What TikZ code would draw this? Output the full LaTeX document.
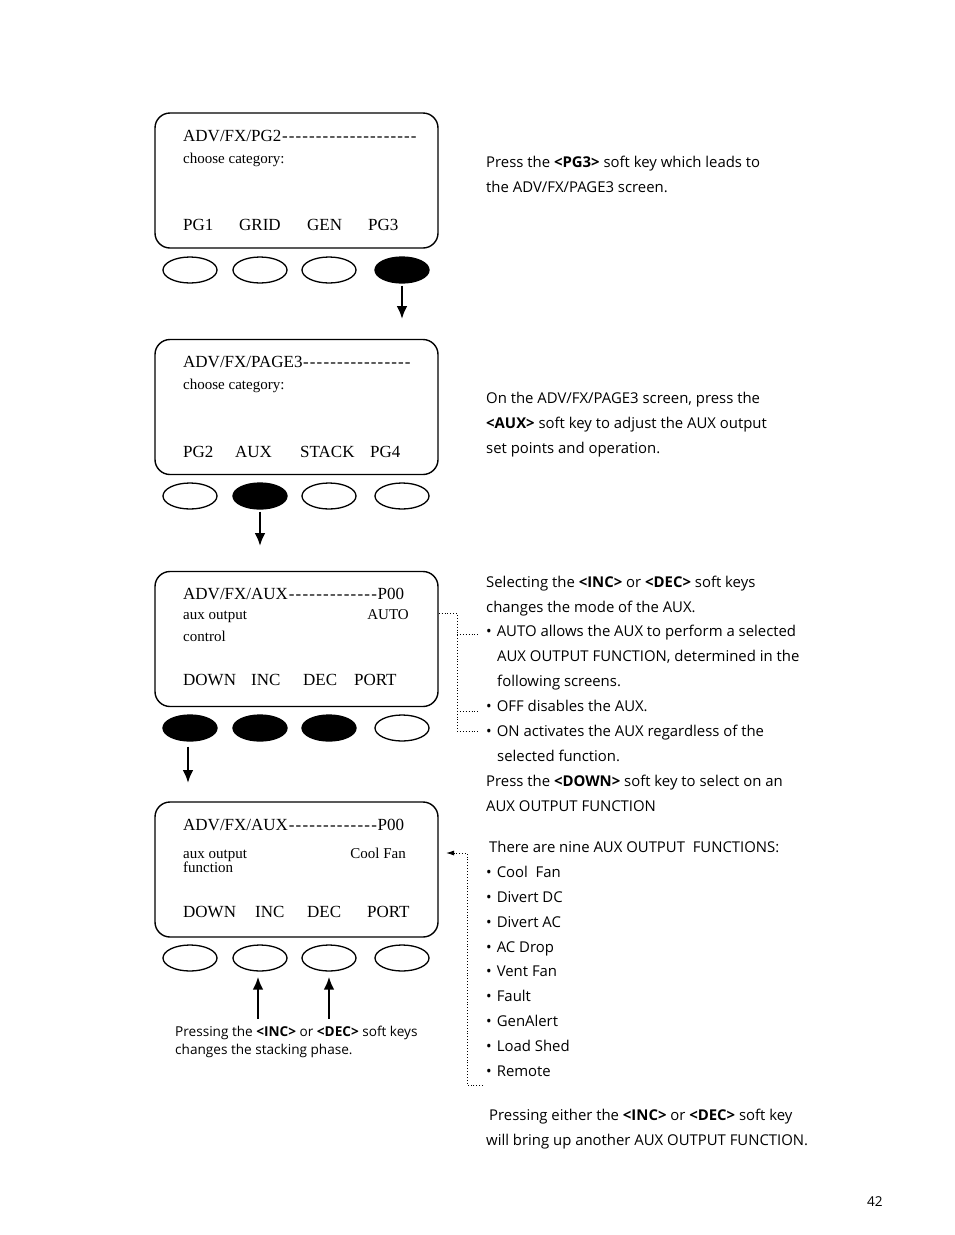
\documentclass[tikz,border=0pt]{standalone}
\usepackage{fontspec}
\setmainfont{Open Sans}
\newfontfamily\boxfont{Liberation Serif}
\usetikzlibrary{shapes.geometric,arrows.meta}
\newcommand\dashfill{\xleaders\hbox to 6.6pt{\hss-\hss}\hfill}
\tikzset{
  screen/.style={draw, line width=1.4pt, rounded corners=15pt, minimum width=283pt, minimum height=135pt, inner sep=0pt},
  key/.style={draw, ellipse, line width=1.3pt, minimum width=54pt, minimum height=26pt, inner sep=0pt},
  keyon/.style={key, fill=black},
  big/.style={anchor=base west, inner sep=0pt, font=\boxfont\fontsize{17}{17}\selectfont},
  bigr/.style={anchor=base east, inner sep=0pt, font=\boxfont\fontsize{15}{15}\selectfont},
  small/.style={anchor=base west, inner sep=0pt, font=\boxfont\fontsize{15}{15}\selectfont},
  txt/.style={anchor=base west, inner sep=0pt, font=\fontsize{14.9}{25}\selectfont},
  captxt/.style={anchor=base west, inner sep=0pt, font=\fontsize{13.6}{18}\selectfont},
  arr/.style={line width=2.8pt, -{Latex[length=13pt,width=11pt]}},
  dot/.style={dotted, line width=0.9pt},
}
\begin{document}
\begin{tikzpicture}[x=1pt,y=-1pt]
\useasboundingbox (0,0) rectangle (954,1235);
% ---------- screen 1
\node[screen] (s1) at (296.5,180.5) {};
\node[big] (t1a) at (183,141) {\makebox[234pt][l]{ADV/FX/PG2\dashfill}};
\node[small] (t1b) at (183,163) {choose category:};
\node[big] (t1c) at (183,230) {PG1};
\node[big] (t1d) at (239,230) {GRID};
\node[big] (t1e) at (307,230) {GEN};
\node[big] (t1f) at (368,230) {PG3};
\node[key] (k11) at (190,270) {};
\node[key] (k12) at (260,270) {};
\node[key] (k13) at (329,270) {};
\node[keyon] (k14) at (402,270) {};
\coordinate (a1) at (402,319);
\draw[arr] ([yshift=-2pt]k14.south) -- (a1);
% ---------- screen 2
\node[screen] (s2) at (296.5,407) {};
\node[big] (t2a) at (183,367) {\makebox[228pt][l]{ADV/FX/PAGE3\dashfill}};
\node[small] (t2b) at (183,389) {choose category:};
\node[big] (t2c) at (183,457) {PG2};
\node[big] (t2d) at (235,457) {AUX};
\node[big] (t2e) at (300,457) {STACK};
\node[big] (t2f) at (370,457) {PG4};
\node[key] (k21) at (190,496) {};
\node[keyon] (k22) at (260,496) {};
\node[key] (k23) at (329,496) {};
\node[key] (k24) at (402,496) {};
\coordinate (a2) at (260,546);
\draw[arr] ([yshift=-2pt]k22.south) -- (a2);
% ---------- screen 3
\node[screen] (s3) at (296.5,639) {};
\node[big] (t3a) at (183,599) {\makebox[221pt][l]{ADV/FX/AUX\dashfill P00}};
\node[small] (t3b) at (183,619) {aux output};
\node[bigr] (t3c) at (409,619) {AUTO};
\node[small] (t3d) at (183,641) {control};
\node[big] (t3e) at (183,685) {DOWN};
\node[big] (t3f) at (251,685) {INC};
\node[big] (t3g) at (303,685) {DEC};
\node[big] (t3h) at (354,685) {PORT};
\node[keyon] (k31) at (190,728) {};
\node[keyon] (k32) at (260,728) {};
\node[keyon] (k33) at (329,728) {};
\node[key] (k34) at (402,728) {};
\coordinate (a3) at (188,783);
\draw[arr] ([yshift=-5pt]k31.south -| a3) -- (a3);
% dotted connector of screen 3
\coordinate (d0) at (457,613);
\coordinate (d1) at (480,634);
\coordinate (d2) at (480,711);
\coordinate (d3) at (480,731);
\draw[dot] (s3.east |- d0) -- (d0) -- (d0 |- d3) -- (d3);
\draw[dot] (d0 |- d1) -- (d1);
\draw[dot] (d0 |- d2) -- (d2);
% ---------- screen 4
\node[screen] (s4) at (296.5,869.5) {};
\node[big] (t4a) at (183,830) {\makebox[221pt][l]{ADV/FX/AUX\dashfill P00}};
\node[small] (t4b) at (183,858) {aux output};
\node[small] (t4c) at (183,872) {function};
\node[bigr] (t4d) at (406,858) {Cool Fan};
\node[big] (t4e) at (183,917) {DOWN};
\node[big] (t4f) at (255,917) {INC};
\node[big] (t4g) at (307,917) {DEC};
\node[big] (t4h) at (367,917) {PORT};
\node[key] (k41) at (190,958) {};
\node[key] (k42) at (260,958) {};
\node[key] (k43) at (329,958) {};
\node[key] (k44) at (402,958) {};
\coordinate (u1) at (258,1019);
\coordinate (u2) at (329,1019);
\draw[arr] (u1) -- ([yshift=-5pt]u1 |- k42.south);
\draw[arr] (u2) -- ([yshift=-5pt]k43.south);
\node[captxt] (c4a) at (175,1036) {Pressing the \textbf{<INC>} or \textbf{<DEC>} soft keys};
\node[captxt] (c4b) at (175,1054) {changes the stacking phase.};
% dotted connector of screen 4
\coordinate (e0) at (467,853);
\coordinate (e1) at (467,1085);
\coordinate (e2) at (483,1085);
\coordinate (e3) at (446,853);
\draw[dot] (e2) -- (e1) -- (e0) -- ([xshift=8pt]e3);
\draw[line width=0.9pt, -{Latex[length=8pt,width=5pt]}] ([xshift=9pt]e3) -- (e3);
% ---------- right texts
\node[txt] (r1a) at (486,167) {Press the \textbf{<PG3>} soft key which leads to};
\node[txt] (r1b) at (486,192) {the ADV/FX/PAGE3 screen.};
\node[txt] (r2a) at (486,403) {On the ADV/FX/PAGE3 screen, press the};
\node[txt] (r2b) at (486,428) {\textbf{<AUX>} soft key to adjust the AUX output};
\node[txt] (r2c) at (486,453) {set points and operation.};
\node[txt] (r3a) at (486,587) {Selecting the \textbf{<INC>} or \textbf{<DEC>} soft keys};
\node[txt] (r3b) at (486,612) {changes the mode of the AUX.};
\node[txt] (r3c) at (486,636) {•\hspace{5pt}AUTO allows the AUX to perform a selected};
\node[txt] (r3d) at (497,661) {AUX OUTPUT FUNCTION, determined in the};
\node[txt] (r3e) at (497,686) {following screens.};
\node[txt] (r3f) at (486,711) {•\hspace{5pt}OFF disables the AUX.};
\node[txt] (r3g) at (486,736) {•\hspace{5pt}ON activates the AUX regardless of the};
\node[txt] (r3h) at (497,761) {selected function.};
\node[txt] (r3i) at (486,786) {Press the \textbf{<DOWN>} soft key to select on an};
\node[txt] (r3j) at (486,811) {AUX OUTPUT FUNCTION};
\node[txt] (r4a) at (489,852) {There are nine AUX OUTPUT\ \ FUNCTIONS:};
\node[txt] (r4b) at (486,877) {•\hspace{5pt}Cool\ \ Fan};
\node[txt] (r4c) at (486,902) {•\hspace{5pt}Divert DC};
\node[txt] (r4d) at (486,927) {•\hspace{5pt}Divert AC};
\node[txt] (r4e) at (486,952) {•\hspace{5pt}AC Drop};
\node[txt] (r4f) at (486,976) {•\hspace{5pt}Vent Fan};
\node[txt] (r4g) at (486,1001) {•\hspace{5pt}Fault};
\node[txt] (r4h) at (486,1026) {•\hspace{5pt}GenAlert};
\node[txt] (r4i) at (486,1051) {•\hspace{5pt}Load Shed};
\node[txt] (r4j) at (486,1076) {•\hspace{5pt}Remote};
\node[txt] (r5a) at (489,1120) {Pressing either the \textbf{<INC>} or \textbf{<DEC>} soft key};
\node[txt] (r5b) at (486,1145) {will bring up another AUX OUTPUT FUNCTION.};
\node[captxt] (pg) at (867,1206) {42};
\end{tikzpicture}
\end{document}
